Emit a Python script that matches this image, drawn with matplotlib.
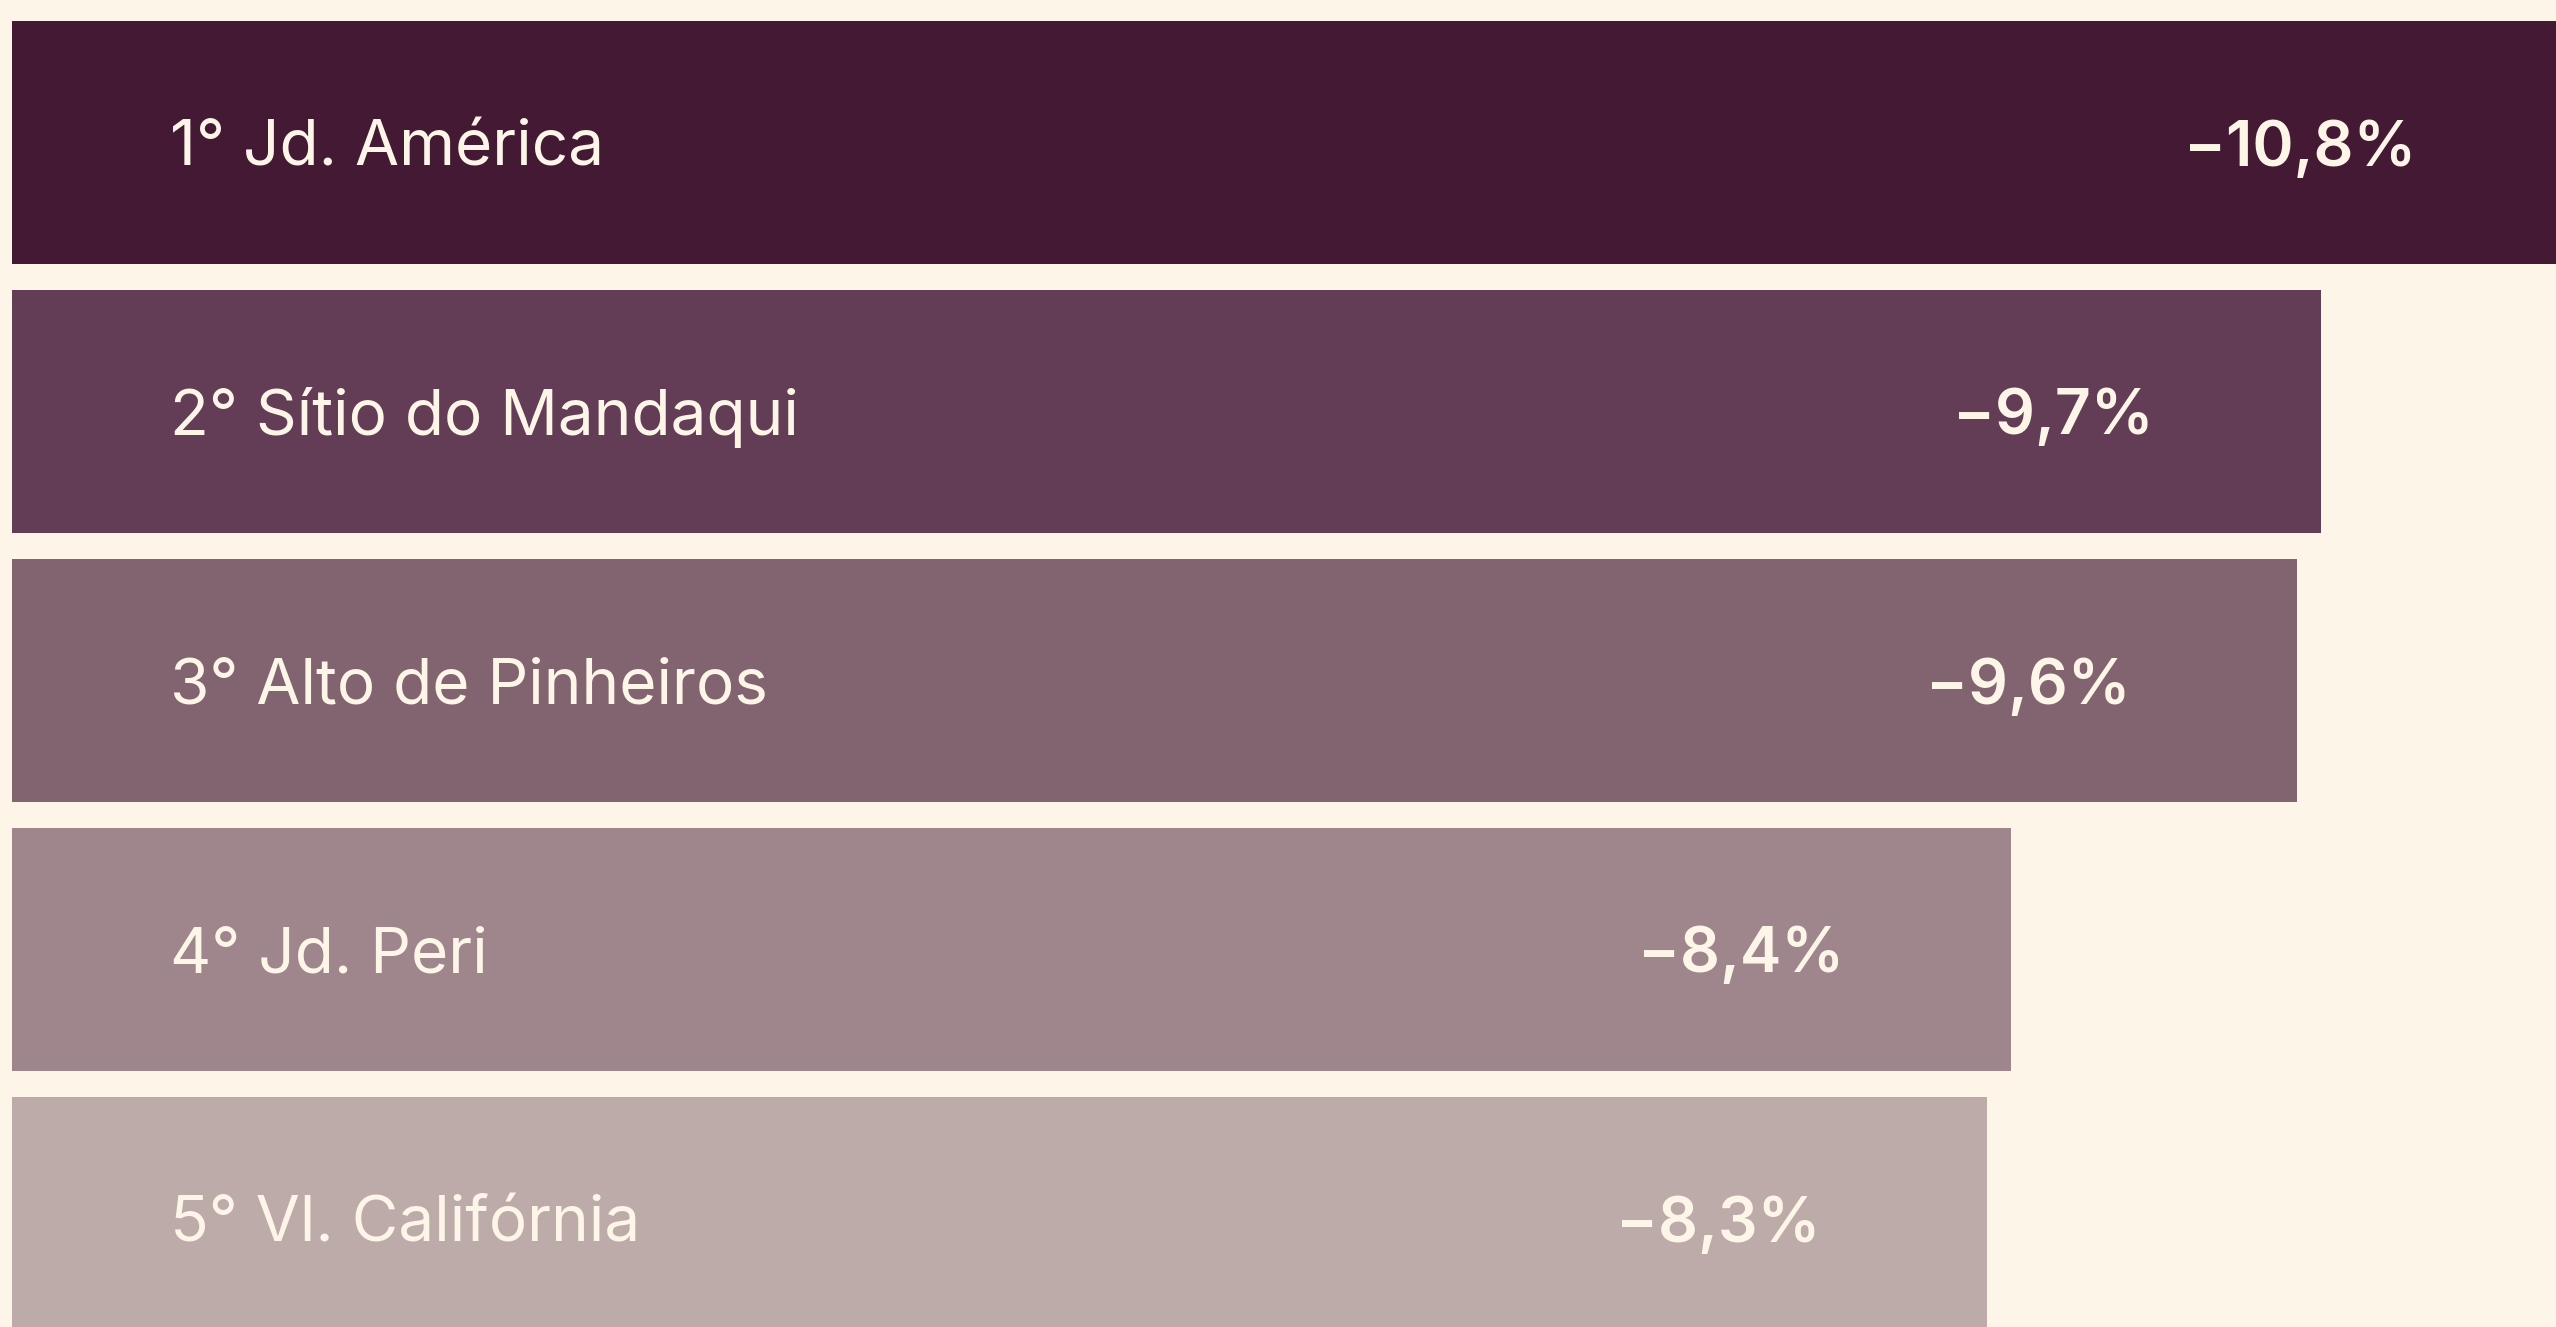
import matplotlib.pyplot as plt

# Ranking: queda de preço por bairro (%)
ranks = ["1°", "2°", "3°", "4°", "5°"]
bairros = ["Jd. América", "Sítio do Mandaqui", "Alto de Pinheiros", "Jd. Peri", "Vl. Califórnia"]
quedas = [10.8, 9.7, 9.6, 8.4, 8.3]

BG = "#FCF5E8"
TEXT = "#FCF5E8"
BAR_COLORS = ["#441934", "#633D55", "#81646F", "#9F868C", "#BDABAA"]

W, H, DPI = 2556, 1327, 100
PX_PER_UNIT = 238  # horizontal scale, pixels per percentage point
BAR_LEFT_PX = 12
PITCH_PX = 269
BAR_H_PX = 243
FIRST_CENTER_PX = 142.5

plt.rcParams["font.family"] = ["Inter", "DejaVu Sans"]

fig = plt.figure(figsize=(W / DPI, H / DPI), dpi=DPI, facecolor=BG)
ax = fig.add_axes([0, 0, 1, 1])
ax.set_facecolor(BG)

ypos = list(range(len(quedas)))
ax.barh(ypos, quedas, height=BAR_H_PX / PITCH_PX, color=BAR_COLORS, left=0)

for i, (rank, nome, q) in enumerate(zip(ranks, bairros, quedas)):
    ax.text(0.665, i, f"{rank} {nome}", color=TEXT, fontsize=46,
            ha="left", va="center_baseline")
    label = f"\u2212{q:.1f}%".replace(".", ",")
    ax.text(q - 0.70, i, label, color=TEXT, fontsize=45, fontweight="semibold",
            ha="right", va="center_baseline")

ax.set_xlim(-BAR_LEFT_PX / PX_PER_UNIT, (W - BAR_LEFT_PX) / PX_PER_UNIT)
ax.set_ylim((H - FIRST_CENTER_PX) / PITCH_PX, -FIRST_CENTER_PX / PITCH_PX)
ax.set_axis_off()

fig.savefig("out.png", dpi=DPI, facecolor=BG)
